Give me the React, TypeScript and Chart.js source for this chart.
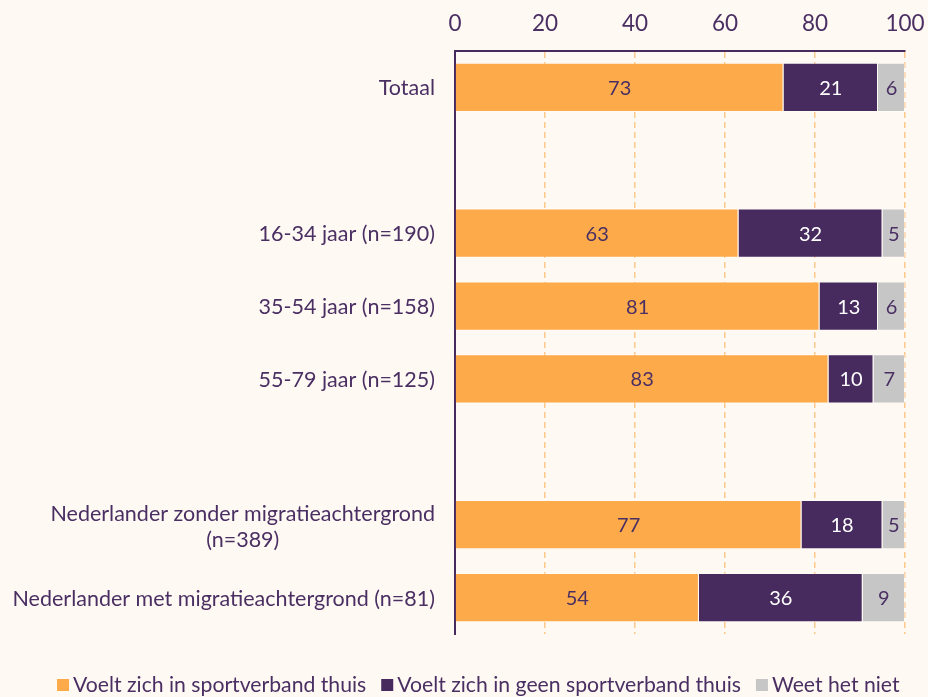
import React, { useEffect, useRef } from "react";
import { Chart, registerables } from "chart.js";

Chart.register(...registerables);

const categories: (string | string[])[] = [
  "Totaal",
  "",
  "16-34 jaar (n=190)",
  "35-54 jaar (n=158)",
  "55-79 jaar (n=125)",
  "",
  ["Nederlander zonder migratieachtergrond", "(n=389)"],
  "Nederlander met migratieachtergrond (n=81)",
];
const seriesNames = [
  "Voelt zich in sportverband thuis",
  "Voelt zich in geen sportverband thuis",
  "Weet het niet",
];
const thuis = [73, null, 63, 81, 83, null, 77, 54.2];
const geenThuis = [21, null, 32, 13, 10, null, 18, 36.4];
const weetNiet = [6, null, 5, 6, 7, null, 5, 9.4];
const xTicks = [0, 20, 40, 60, 80, 100];

const ORANGE = "#fdaa4a";
const PURPLE = "#472a5e";
const GREY = "#c6c6c6";
const TEXT = "#4a2f63";
const BG = "#fff9f3";
const GRID = "#fcc88c";
const FONT = "Lato";

const labelColors = [TEXT, "#ffffff", TEXT];

const valueLabels = {
  id: "valueLabels",
  afterDatasetsDraw(chart: any) {
    const ctx = chart.ctx;
    ctx.save();
    ctx.font = `20px ${FONT}`;
    ctx.textAlign = "center";
    ctx.textBaseline = "middle";
    chart.data.datasets.forEach((ds: any, i: number) => {
      const meta = chart.getDatasetMeta(i);
      meta.data.forEach((bar: any, j: number) => {
        const v = ds.data[j];
        if (v == null) return;
        const p = bar.getProps(["x", "y", "base"], true);
        ctx.fillStyle = labelColors[i];
        ctx.fillText(String(Math.round(v)), (p.x + p.base) / 2, p.y + 1);
      });
    });
    ctx.restore();
  },
};

const customLabels = {
  id: "customLabels",
  afterDraw(chart: any) {
    const ctx = chart.ctx;
    const y = chart.scales.y;
    ctx.save();
    ctx.font = `21.5px ${FONT}`;
    ctx.fillStyle = TEXT;
    ctx.textBaseline = "middle";
    ctx.textAlign = "center";
    const rightX = chart.chartArea.left - 20;
    const lh = 26;
    categories.forEach((lab, i) => {
      const lines = Array.isArray(lab) ? lab : [lab];
      if (!lines[0]) return;
      const w = Math.max(...lines.map((l) => ctx.measureText(l).width));
      const cx = rightX - w / 2;
      const cy = y.getPixelForValue(i) + (lines.length > 1 ? 2 : 1);
      const y0 = cy - ((lines.length - 1) * lh) / 2;
      lines.forEach((l, k) => ctx.fillText(l, cx, y0 + k * lh));
    });

    // legend
    ctx.font = `21.2px ${FONT}`;
    const colors = chart.data.datasets.map((d: any) => d.backgroundColor);
    const box = 12;
    const gapBox = 4;
    const gapItem = 15;
    let x = 57;
    const ly = 685;
    ctx.textAlign = "left";
    seriesNames.forEach((s, i) => {
      ctx.fillStyle = colors[i];
      ctx.fillRect(x, ly - box / 2, box, box);
      x += box + gapBox;
      ctx.fillStyle = TEXT;
      ctx.fillText(s, x, ly);
      x += ctx.measureText(s).width + gapItem;
    });
    ctx.restore();
  },
};

export default function App() {
  const ref = useRef<HTMLCanvasElement>(null);
  useEffect(() => {
    if (!ref.current) return;
    const chart = new Chart(ref.current, {
      type: "bar",
      data: {
        labels: categories as any,
        datasets: [
          { label: seriesNames[0], data: thuis, backgroundColor: ORANGE },
          { label: seriesNames[1], data: geenThuis, backgroundColor: PURPLE },
          { label: seriesNames[2], data: weetNiet, backgroundColor: GREY },
        ].map((d) => ({
          ...d,
          categoryPercentage: 1,
          barPercentage: 0.675,
          borderWidth: 1,
          borderColor: "rgba(255,255,255,0.35)",
        })),
      },
      options: {
        indexAxis: "y",
        animation: false,
        responsive: true,
        maintainAspectRatio: false,
        layout: { padding: { top: 0, bottom: 63, left: 0, right: 23 } },
        plugins: {
          legend: { display: false },
          tooltip: { enabled: false },
        },
        scales: {
          x: {
            position: "top",
            stacked: true,
            min: 0,
            max: 100,
            afterBuildTicks: (s: any) => {
              s.ticks = xTicks.map((v) => ({ value: v }));
            },
            afterFit: (s: any) => {
              s.height = 51;
              s.paddingRight = 0;
              s.paddingLeft = 0;
            },
            ticks: {
              font: { family: FONT, size: 22.5 },
              color: TEXT,
              padding: 14,
            },
            grid: {
              drawTicks: false,
              color: (c: any) => (c.index === 0 ? "rgba(0,0,0,0)" : GRID),
              lineWidth: 1.5,
            },
            border: { display: true, color: PURPLE, width: 2, dash: [6, 4] },
          },
          y: {
            stacked: true,
            ticks: { display: false },
            grid: { display: false },
            border: { display: true, color: PURPLE, width: 2 },
            afterFit: (s: any) => {
              s.width = 455;
            },
          },
        },
      },
      plugins: [valueLabels, customLabels],
    });
    return () => chart.destroy();
  }, []);
  return (
    <div
      style={{
        position: "fixed",
        left: 0,
        top: 0,
        width: 928,
        height: 697,
        background: BG,
      }}
    >
      <canvas ref={ref} />
    </div>
  );
}
